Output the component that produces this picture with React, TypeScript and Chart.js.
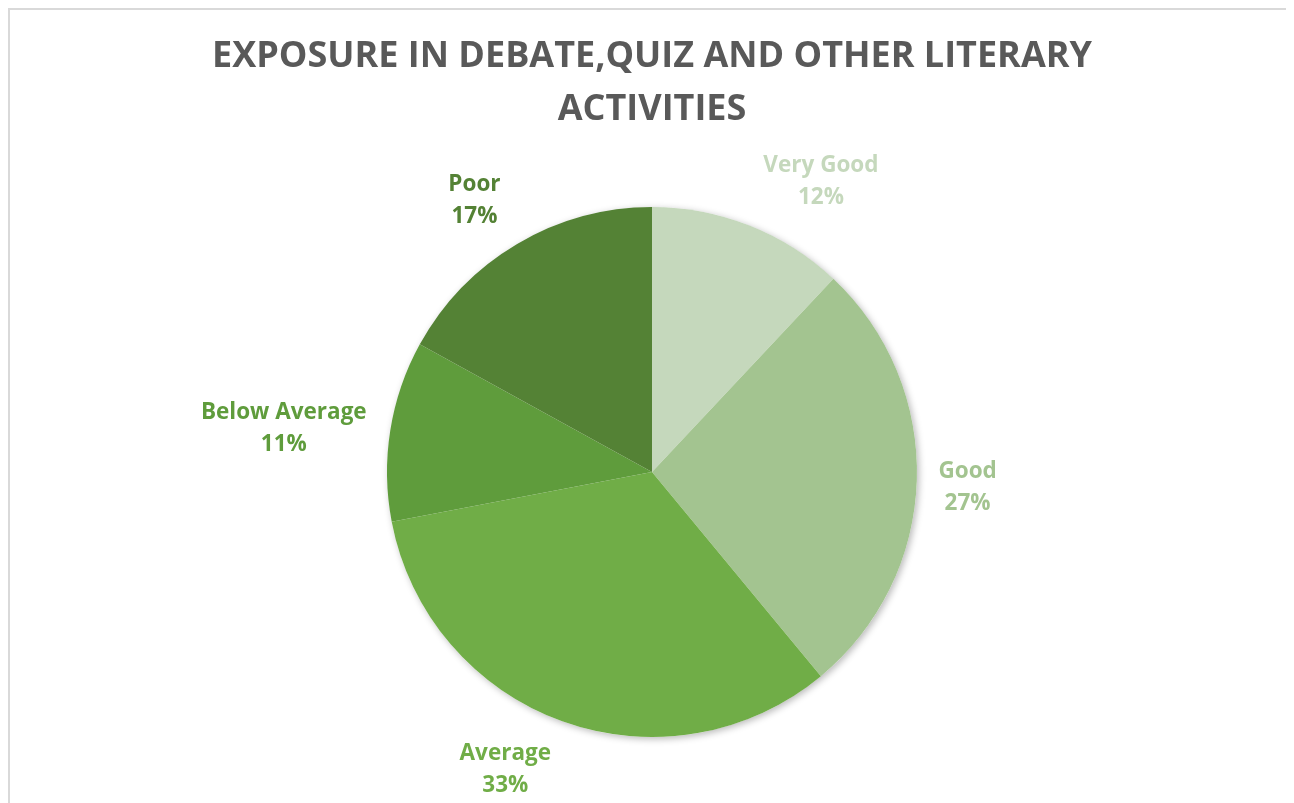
import React, { useEffect, useRef } from 'react';
import { Chart, registerables } from 'chart.js';

Chart.register(...registerables);

const chartTitle = ['EXPOSURE IN DEBATE,QUIZ AND OTHER LITERARY', 'ACTIVITIES'];
const categories = ['Very Good', 'Good', 'Average', 'Below Average', 'Poor'];
const percentages = [12, 27, 33, 11, 17];
const sliceColors = ['#C5D8BC', '#A3C490', '#70AD47', '#5F9C3C', '#548235'];
// label placement relative to each slice: angular nudge from mid-angle (deg), distance as multiple of radius
const labelAngleNudge = [8.4, 0.6, 6.6, -2, -2.4];
const labelDistance = [1.275, 1.192, 1.245, 1.4, 1.23];

const FONT = '"Open Sans", "DejaVu Sans", sans-serif';

export default function App() {
  const canvasRef = useRef<HTMLCanvasElement | null>(null);

  useEffect(() => {
    document.documentElement.style.overflow = 'hidden';
    document.body.style.overflow = 'hidden';
    const canvas = canvasRef.current;
    if (!canvas) return;

    const shadowPlugin = {
      id: 'pieShadow',
      beforeDatasetsDraw(chart: any) {
        const meta = chart.getDatasetMeta(0);
        const arc = meta.data[0] as any;
        if (!arc) return;
        const ctx = chart.ctx;
        ctx.save();
        ctx.shadowColor = 'rgba(0,0,0,0.28)';
        ctx.shadowBlur = 7;
        ctx.shadowOffsetX = 2;
        ctx.shadowOffsetY = 2;
        ctx.beginPath();
        ctx.arc(arc.x, arc.y, arc.outerRadius, 0, Math.PI * 2);
        ctx.fillStyle = '#ffffff';
        ctx.fill();
        ctx.restore();
      },
    };

    const labelPlugin = {
      id: 'outerLabels',
      afterDatasetsDraw(chart: any) {
        const meta = chart.getDatasetMeta(0);
        const ctx = chart.ctx;
        ctx.save();
        ctx.textAlign = 'center';
        ctx.textBaseline = 'alphabetic';
        ctx.font = `bold 22.5px ${FONT}`;
        meta.data.forEach((el: any, i: number) => {
          const mid = (el.startAngle + el.endAngle) / 2 + (labelAngleNudge[i] * Math.PI) / 180;
          const d = el.outerRadius * labelDistance[i];
          const cx = el.x + Math.cos(mid) * d;
          const cy = el.y + Math.sin(mid) * d;
          ctx.fillStyle = sliceColors[i];
          ctx.fillText(categories[i], cx, cy - 7.5);
          ctx.fillText(`${percentages[i]}%`, cx, cy + 24.5);
        });
        ctx.restore();
      },
      afterDraw(chart: any) {
        const ctx = chart.ctx;
        const meta = chart.getDatasetMeta(0);
        const arc = meta.data[0] as any;
        const x = arc ? arc.x : chart.width / 2;
        ctx.save();
        ctx.textAlign = 'center';
        ctx.textBaseline = 'alphabetic';
        ctx.fillStyle = '#595959';
        ctx.font = `bold 36px ${FONT}`;
        ctx.fillText(chartTitle[0], x, 57);
        ctx.fillText(chartTitle[1], x, 110);
        ctx.restore();
      },
    };

    const chart = new Chart(canvas, {
      type: 'pie',
      data: {
        labels: categories,
        datasets: [
          {
            data: percentages,
            backgroundColor: sliceColors,
            borderWidth: 0,
          },
        ],
      },
      options: {
        responsive: false,
        animation: false,
        layout: { padding: { top: 197, bottom: 66, left: 0, right: 0 } },
        plugins: {
          legend: { display: false },
          title: { display: false },
          tooltip: { enabled: false },
        },
      },
      plugins: [shadowPlugin, labelPlugin],
    });

    return () => chart.destroy();
  }, []);

  return (
    <div
      style={{
        width: 1284,
        height: 793,
        borderTop: '2px solid #D9D9D9',
        borderLeft: '2px solid #D9D9D9',
        background: '#ffffff',
      }}
    >
      <canvas ref={canvasRef} width={1284} height={793} style={{ display: 'block' }} />
    </div>
  );
}
